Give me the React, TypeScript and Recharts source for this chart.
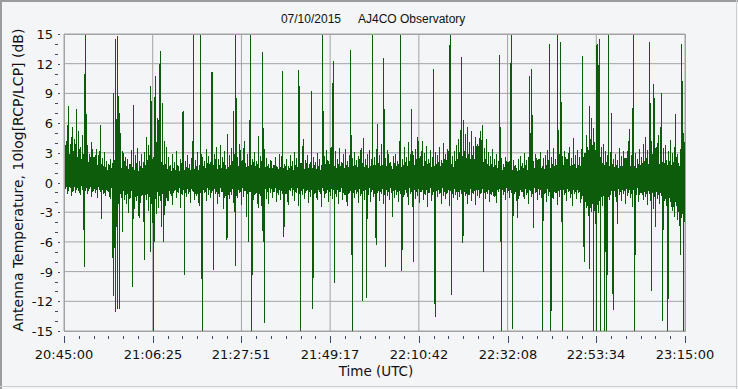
import React from 'react';
import { LineChart, Line, XAxis, YAxis, CartesianGrid } from 'recharts';

const TITLE_DATE = '07/10/2015';
const TITLE_SITE = 'AJ4CO Observatory';
const X_LABEL = 'Time (UTC)';
const Y_LABEL = 'Antenna Temperature, 10log[RCP/LCP] (dB)';

const TIME_LABELS = ['20:45:00', '21:06:25', '21:27:51', '21:49:17', '22:10:42', '22:32:08', '22:53:34', '23:15:00'];
const SPAN_SECONDS = 9000;
const BIN_SECONDS = 15;
const MINOR_PER_MAJOR = 6;

const Y_MAJOR = [-15, -12, -9, -6, -3, 0, 3, 6, 9, 12, 15];
const Y_TICKS = [-15, -14, -13, -12, -11, -10, -9, -8, -7, -6, -5, -4, -3, -2, -1, 0, 1, 2, 3, 4, 5, 6, 7, 8, 9, 10, 11, 12, 13, 14, 15];

// Per 15-s bin: the extreme reading of the bin (dB)
const PEAK_READINGS = [
  6.5, -0.7, 4.2, -1.2, 7.7, -0.5, 3.9, -1.4, 5.6, -0.9, 4.4, -1.1, 7.4, -0.6, 5.2, -1.3, 3.6, -0.8, 4.8, -8.5,
  11, 15, -1.2, 3.8, -0.7, 2.9, -1.5, 4.1, -0.9, 2.6, -1.1, 3.4, -1.6, 2.8, -0.8, 5.8, -3.7, 2.5, -1.2, 3.1,
  -1.4, 2.2, -0.9, 1.9, -1.7, 2.4, -1.1, -11.5, 9, -13.1, 14.5, -12.8, 14.8, -12.8, 7, 1.8, -5, 3.2, -1.8, 2.6,
  -2.2, 2.4, -3.1, 1.9, -1.6, 3.3, -10.6, 7.8, -2.7, 2.8, -1.9, 3.5, -3.6, 2.2, -1.4, 2.9, -2.5, -7.8, 3.1, -1.8,
  4.6, -2.9, 3.8, -7, 9.7, -4.1, -15, -6, 10.8, -3.2, 6.5, -2.6, 12, 13.3, -4.5, 8, -6, 4.2, -2.4, 3.6,
  -1.9, 2.6, -1.2, 1.8, -2.3, 2.9, -0.9, 2.1, -1.6, 3.2, -1.1, 1.7, -2.6, 2.4, -1.3, 7.2, -9.3, 2.2, -1.5, 2.8,
  -1.2, 1.9, -2.1, 2.5, -0.9, 15, -1.8, 2.3, -1.4, 3.1, -2.4, 1.8, 15, -15, 2.6, -1.1, 2.2, -1.9, 3.4, -1.3,
  2.7, -1.6, 2.1, 11.2, -8.8, 2.9, -1.2, 3.6, -2.2, 2.4, -1.5, 3.8, -1.0, 2.6, -2.7, 3.2, -1.4, -5.8, 4.9, -1.7,
  2.8, -1.3, 3.5, -2.1, 7.2, -8.4, 15, -1.6, 2.6, -1.1, 3.9, -2.3, 2.3, -1.5, 4.2, -0.9, -3.5, 2.9, -6, 3.3,
  15, -15, 2.4, -1.8, 3.1, -1.2, 2.2, -2.6, 4.7, -1.4, 2.7, -4.9, 13.2, -14.2, 3.4, -1.7, 2.5, -2.2, 1.9, -1.1,
  2.3, -1.6, 1.8, -1.0, 2.6, -2.0, 1.6, -1.3, 2.9, -1.8, 2.1, 11.3, -5.5, 1.9, -1.2, 2.4, -2.3, 1.7, -0.9, 2.8,
  -1.4, 2.2, -1.9, 3.1, -1.1, 2.5, -2.4, 11.4, -15, 2.0, -1.3, 4.4, -1.7, 2.3, -0.9, 2.8, -2.1, 1.9, -1.5, 9.2,
  -12.8, 2.6, -1.2, 2.1, -1.8, 3.0, -1.0, 2.4, -2.5, 1.8, 15, -1.6, 2.7, -1.1, 3.3, -2.0, 2.2, -1.4, 3.6, -1.7,
  12.3, -10.2, 3.2, -1.5, 2.4, -2.2, 3.5, -1.0, 2.1, -1.8, 2.9, -1.3, 3.4, -2.4, 2.2, -1.1, 2.8, 13.4, -15, 2.5,
  -1.6, 3.1, -1.2, 2.3, -2.1, 2.7, -1.4, 3.5, -12, 4.5, -1.8, 2.4, -11.7, 2.9, -1.3, 3.3, -2.0, 2.2, 15, -1.5,
  2.6, -6.3, 3.4, 5.9, -1.9, 2.8, -1.2, 3.9, -2.2, 12.6, -8.5, 2.5, -1.4, 3.3, -1.8, 2.1, -1.1, -3.5, 2.7, -1.6,
  2.9, -1.3, 2.2, -2.0, 3.1, 15, -8.9, 2.4, -1.5, 3.6, -1.1, 2.6, -2.3, 4.1, -1.2, 2.9, 7.4, -8, 2.8, -1.7,
  3.4, -1.4, 4.6, -2.1, 2.7, -1.0, 4.2, -1.8, 3.0, -1.3, 3.7, -2.5, 2.4, -1.1, 3.3, -1.9, 2.6, 11.5, -13.6, 3.1,
  -1.5, 2.8, -1.2, 3.6, -2.2, 2.3, -1.4, 4.0, -1.7, 2.9, -1.1, 3.4, -2.4, 15, -11.4, 2.7, -1.6, 3.2, -1.3, 3.8,
  -1.8, 4.4, -1.5, 5.3, 12.7, -6.1, 6.3, -1.4, 4.9, -2.2, 5.6, -1.3, 4.1, -1.9, 5.2, -1.2, 3.7, -2.3, 4.6, -1.4,
  3.9, -1.6, 5.2, -1.1, 5.8, -9, 3.5, -1.7, 4.4, -1.2, 3.1, -2.0, 2.7, -1.3, 3.4, -1.5, 2.4, -2.1, 2.9, -1.0,
  2.2, 12.9, -15, 2.5, -1.3, 1.9, -1.8, 2.6, -1.1, 2.1, -1.6, 2.8, 15, -14.8, 2.3, -1.2, 1.8, -1.9, -3.6, 2.4,
  -1.4, 2.7, -1.0, 2.0, -1.7, 3.0, -1.3, 2.3, -2.2, 2.6, 10.8, -1.5, 11.5, -4.6, 2.2, -1.1, 2.9, -1.8, 2.4, -1.3,
  3.1, -1.6, -15, 2.5, -1.2, 2.8, -2.0, 3.3, -1.4, 14, -15, 2.6, -1.7, 3.5, -1.1, 2.4, -2.3, 15, -1.5, 2.9,
  14.2, -15, 2.7, -1.3, 3.2, -1.9, 2.4, -1.0, 3.6, -1.6, 2.5, -2.4, 4.5, -1.2, 2.8, -1.7, 3.3, -1.1, 2.6, -2.1,
  3.4, 12.8, -8, 3.0, -2.6, 4.8, -3.4, -8.7, 7.7, -3, 6.5, -15, 5.5, -4.2, -15, 14, -3.1, 14.5, -15, 3.6,
  -2.4, 3.9, -15, 3.2, -15, 2.6, 15, -1.8, 3.1, 7, -12.9, 2.4, -1.5, 2.9, -4.2, 2.3, -1.3, 3.5, -1.9, 2.7,
  -1.2, 3.2, -2.2, 2.5, -1.4, 3.7, 5.4, -1.6, 2.8, -2.5, 15, -15, 3.0, -1.3, 2.4, -2.0, 3.4, -1.1, 2.6, -1.8,
  3.9, -1.5, 4.6, -2.3, 3.3, -1.2, 14.2, -11, 4.2, -2.7, 9.9, -4.5, 3.6, -1.7, 4.8, -2.2, 3.1, 9, -14, 3.5,
  -1.9, 3.8, -2.4, -15, 3.2, -1.6, 4.3, -2.9, 3.0, -3.5, 3.6, 6.9, -3.8, 2.9, -4.4, -7.3, 3.4, 14, -15, 5,
  -4.8,
];

// Per 15-s bin: the opposite-side reading of the same bin (dB)
const COUNTER_READINGS = [
  -0.8, 3.8, -0.5, 4.2, -0.9, 2.9, -0.6, 4.6, -1.0, 3.2, -0.5, 3.9, -0.8, 2.6, -0.9, 3.4, -0.4, 2.4, -0.7, 2.9,
  -0.9, -0.6, 2.4, -0.9, 2.1, -0.5, 2.6, -1.0, 1.9, -0.7, 2.2, -0.8, 1.8, -0.5, 2.0, -1.0, 1.9, -0.7, 1.7, -1.1,
  1.6, -0.8, 1.3, -1.0, 1.8, -0.6, 1.5, 2.0, -1.5, 2.2, -2.0, 1.7, -1.8, 2.3, -1.2, -1.6, 1.5, -0.9, 1.8, -1.3,
  1.7, -1.2, 1.4, -1.7, 1.9, -0.9, 1.6, -2.6, 1.3, -1.1, 2.0, -1.4, 1.2, -2.1, 1.7, -0.8, 1.5, 2.1, -1.3, 1.8,
  -1.2, 2.0, -1.5, 2.8, -2.2, 1.9, 2.4, 3.2, -1.7, 2.2, -1.0, 2.9, -1.4, -1.9, 2.1, -1.2, 1.8, -1.6, 1.9, -1.0,
  1.4, -0.9, 1.7, -0.6, 1.2, -1.1, 1.5, -0.8, 1.3, -1.0, 1.8, -0.6, 1.2, -1.2, 1.6, -0.8, 1.3, -1.1, 1.6, -0.7,
  1.5, -1.0, 1.3, -0.7, 1.8, -1.0, 1.4, -0.8, 1.7, -0.6, 1.3, -1.1, -0.9, 1.6, -0.8, 1.7, -1.0, 1.5, -0.6, 1.8,
  -0.8, 1.6, -1.1, -0.9, 1.7, -0.7, 1.9, -1.0, 1.4, -1.2, 1.8, -0.6, 1.5, -1.0, 2.1, -0.8, 1.8, 1.4, -1.1, 1.6,
  -1.0, 1.8, -0.7, 2.2, -1.2, 1.7, -1.4, 2.0, -0.8, 1.7, -1.0, 2.3, -0.6, 1.8, -0.9, 2.0, 1.6, -1.2, 1.7, -0.8,
  -1.0, 1.8, -0.8, 2.1, -1.3, 1.7, -0.9, 1.9, -1.2, 1.5, -1.6, 2.2, -0.8, 1.8, -0.7, 1.5, -1.0, 1.7, -0.6, 1.4,
  -0.7, 1.5, -1.0, 1.3, -0.6, 1.7, -1.1, 1.4, -0.8, 1.6, -0.9, -1.2, 1.5, -0.6, 1.7, -1.0, 1.3, -0.8, 1.5, -0.6,
  1.7, -0.8, 1.3, -1.0, 1.8, -0.6, 1.5, -1.2, 1.6, -0.9, 1.8, -0.7, 1.4, -1.1, 2.0, -0.8, 1.5, -1.0, 1.3, -0.8,
  1.5, -1.0, 1.8, -0.7, 1.4, -0.8, 1.7, -1.1, 1.3, -0.6, -0.9, 1.6, -1.2, 1.9, -0.8, 1.5, -1.0, 1.9, -0.7, 1.7,
  -0.8, 1.7, -1.2, 1.5, -0.8, 1.9, -1.0, 1.7, -0.6, 2.0, -1.0, 1.5, -0.8, 1.8, -1.2, 1.6, -0.9, -0.7, 1.8, -1.1,
  1.7, -0.8, 1.8, -1.0, 1.5, -0.7, 1.7, -1.2, 2.0, -0.9, 1.6, -0.8, 1.8, -1.1, 1.5, -0.6, 1.7, -1.0, -0.8, 1.8,
  -0.9, 1.8, -1.1, -0.8, 2.0, -1.0, 1.7, -0.7, 1.8, -1.3, 1.9, -0.8, 1.5, -1.0, 2.2, -0.6, 1.7, 1.4, -0.9, 2.0,
  -0.8, 1.7, -1.0, 1.9, -0.9, -1.2, 1.6, -0.7, 1.8, -0.8, 2.1, -1.1, 1.7, -0.6, 2.2, -1.0, -1.2, 1.5, -0.8, 1.8,
  -1.0, 2.1, -0.7, 1.8, -1.0, 2.5, -0.8, 1.7, -1.2, 2.2, -0.8, 1.9, -1.1, 2.0, -0.6, 1.6, -0.9, -1.0, 1.7, -0.8,
  1.9, -0.8, 2.1, -1.1, 1.7, -0.6, 2.0, -1.0, 1.8, -1.2, 2.3, -0.8, 1.7, -0.9, 1.9, -1.2, 1.6, -0.7, 2.2, -1.0,
  2.4, -1.0, 3.1, -0.8, -1.2, 2.7, -1.0, 3.2, -0.8, 2.5, -1.3, 2.9, -0.7, 2.4, -1.1, 2.8, -0.9, 2.3, -0.8, 2.6,
  -0.8, 2.6, -1.2, 2.3, -0.7, 2.1, -0.9, 2.4, -1.0, 1.9, -0.8, 1.7, -1.2, 1.9, -0.6, 1.6, -1.0, 1.8, -0.8, 1.5,
  -0.7, -1.0, 1.5, -0.8, 1.3, -1.0, 1.6, -0.6, 1.4, -0.9, 1.7, -0.8, -1.1, 1.3, -0.6, 1.7, -1.0, 1.5, 1.2, -0.8,
  1.3, -0.8, 1.7, -1.0, 1.5, -0.7, 1.8, -1.0, 1.3, -0.8, -0.9, 1.6, -1.2, 1.7, -0.6, 1.5, -1.0, 1.4, -0.7, 1.8,
  -0.8, 1.5, 1.7, -0.9, 1.4, -1.1, 1.8, -0.7, 1.6, -1.0, 1.5, -0.8, 1.9, -1.0, 1.7, -0.6, 1.8, -0.9, 1.5, -0.8,
  -1.0, 1.7, -0.8, 1.8, -1.1, 1.5, -0.7, 2.0, -0.9, 1.7, -1.2, 1.6, -0.8, 1.9, -1.0, 1.5, -0.8, 1.8, -1.0, 1.7,
  -1.4, -1.7, 2.6, -2.0, 3.0, -2.4, 3.6, 3.3, -2.6, 4.4, -2.2, 3.8, -2.9, 4.1, 2.9, -2.3, 3.2, -1.9, 2.6, -1.5,
  2.0, -1.4, 1.8, -1.2, 2.1, -1.0, -1.5, 1.7, -0.9, -1.3, 1.9, -0.8, 1.6, -1.1, 1.8, -0.7, 1.5, -1.0, 1.7, -0.8,
  1.6, -0.9, 1.8, -0.7, 2.0, -1.1, -0.8, 1.7, -1.2, 1.9, -0.8, 1.7, -1.0, 1.5, -0.6, 1.9, -1.0, 1.8, -0.8, 2.0,
  -1.0, 2.2, -1.2, 2.5, -0.9, 1.9, -1.3, 2.3, -1.1, 2.1, -1.5, 2.6, -1.0, 2.4, -1.3, 1.9, -1.1, -1.4, 2.1, -1.2,
  2.0, -1.7, 2.3, 1.8, -1.5, 2.2, -2.1, 1.8, -2.5, 2.1, -2.0, -2.4, 2.6, -3.0, 2.0, 1.7, -3.6, -3.2, 2.2, -4.0,
  1.9,
];

// each bin is drawn as its high reading then its low reading (min/max trace)
const DATA = PEAK_READINGS.flatMap((v, i) => {
  const c = COUNTER_READINGS[i];
  const t = i * BIN_SECONDS;
  return [
    { t, v: Math.max(v, c) },
    { t: t + BIN_SECONDS / 2, v: Math.min(v, c) },
  ];
});

const MAJOR_COUNT = TIME_LABELS.length - 1;
const X_MAJOR = TIME_LABELS.map((_, i) => (i * SPAN_SECONDS) / MAJOR_COUNT);
const X_TICKS = Array.from({ length: MAJOR_COUNT * MINOR_PER_MAJOR + 1 }, (_, i) => (i * SPAN_SECONDS) / (MAJOR_COUNT * MINOR_PER_MAJOR));

const W = 738;
const H = 389;
const PLOT_L = 64;
const PLOT_T = 34;
const PLOT_R = 685;
const PLOT_B = 331;

const BG = '#f4f5f7';
const GRID = '#a3a3a3';
const TICK = '#3b4a66';
const GREEN = '#0c5c0c';
const TICK_FONT = '"DejaVu Sans", sans-serif';

const XTick = (props: any) => {
  const { payload } = props;
  const c = Math.round(payload.coordinate);
  const idx = X_TICKS.findIndex((t) => Math.abs(t - payload.value) < 1e-6);
  const major = idx % MINOR_PER_MAJOR === 0;
  if (!major) {
    return <line x1={c + 0.5} x2={c + 0.5} y1={PLOT_B + 5} y2={PLOT_B + 8} stroke={TICK} strokeWidth={1} />;
  }
  const label = TIME_LABELS[idx / MINOR_PER_MAJOR];
  return (
    <g>
      <line x1={c + 0.5} x2={c + 0.5} y1={PLOT_B + 5} y2={PLOT_B + 12} stroke={TICK} strokeWidth={1} />
      <text x={c} y={PLOT_B + 28} textAnchor="middle" fontFamily={TICK_FONT} fontSize={13} fill="#111">
        {label}
      </text>
    </g>
  );
};

const YTick = (props: any) => {
  const { payload } = props;
  const c = Math.round(payload.coordinate);
  const v = payload.value;
  const major = Y_MAJOR.includes(v);
  if (!major) {
    return <line x1={PLOT_L - 9} x2={PLOT_L - 6} y1={c + 0.5} y2={c + 0.5} stroke={TICK} strokeWidth={1} />;
  }
  return (
    <g>
      <line x1={PLOT_L - 6} x2={PLOT_L - 4} y1={c + 0.5} y2={c + 0.5} stroke={TICK} strokeWidth={1} />
      <text x={PLOT_L - 11} y={c + 4.5} textAnchor="end" fontFamily={TICK_FONT} fontSize={13} fill="#111">
        {String(v)}
      </text>
    </g>
  );
};

export default function App() {
  return (
    <div style={{ position: 'absolute', left: 0, top: 0, width: W, height: H, background: BG, overflow: 'hidden' }}>
      <style>{`.recharts-line-curve { shape-rendering: crispEdges; }`}</style>
      <LineChart
        width={W}
        height={H}
        data={DATA}
        margin={{ top: PLOT_T, right: W - PLOT_R, bottom: H - PLOT_B - 1, left: PLOT_L - 1 }}
      >
        <CartesianGrid stroke={GRID} horizontalValues={Y_MAJOR} verticalValues={X_MAJOR} />
        <XAxis
          dataKey="t"
          type="number"
          domain={[0, SPAN_SECONDS]}
          ticks={X_TICKS}
          interval={0}
          height={1}
          axisLine={false}
          tickLine={false}
          tick={<XTick />}
          allowDataOverflow
        />
        <YAxis
          type="number"
          domain={[-15, 15]}
          ticks={Y_TICKS}
          interval={0}
          width={1}
          axisLine={false}
          tickLine={false}
          tick={<YTick />}
          allowDataOverflow
        />
        <Line
          dataKey="v"
          type="linear"
          stroke={GREEN}
          strokeWidth={1}
          dot={false}
          activeDot={false}
          isAnimationActive={false}
        />
      </LineChart>
      <svg width={W} height={H} style={{ position: 'absolute', left: 0, top: 0, pointerEvents: 'none' }}>
        <rect x={PLOT_L + 0.5} y={PLOT_T + 0.5} width={PLOT_R - PLOT_L} height={PLOT_B - PLOT_T} fill="none" stroke={GRID} />
        <line x1={0} x2={W} y1={1} y2={1} stroke="#9c9c9c" strokeWidth={2} />
        <line x1={1} x2={1} y1={0} y2={H} stroke="#9c9c9c" strokeWidth={2} />
        <line x1={W - 1.5} x2={W - 1.5} y1={0} y2={H} stroke="#cfcfcf" strokeWidth={1} />
        <line x1={0} x2={W} y1={H - 2.5} y2={H - 2.5} stroke="#cfcfcf" strokeWidth={1} />
        <text x={341} y={23} textAnchor="end" fontFamily='"Liberation Sans", Arial, sans-serif' fontSize={12} fill="#111">
          {TITLE_DATE}
        </text>
        <text x={358} y={23} textAnchor="start" fontFamily='"Liberation Sans", Arial, sans-serif' fontSize={12} fill="#111">
          {TITLE_SITE}
        </text>
        <text x={376} y={376} textAnchor="middle" fontFamily={TICK_FONT} fontSize={13.5} fill="#111">
          {X_LABEL}
        </text>
        <text
          transform="translate(23,180) rotate(-90)"
          textAnchor="middle"
          fontFamily={TICK_FONT}
          fontSize={14}
          fill="#111"
        >
          {Y_LABEL}
        </text>
      </svg>
    </div>
  );
}
